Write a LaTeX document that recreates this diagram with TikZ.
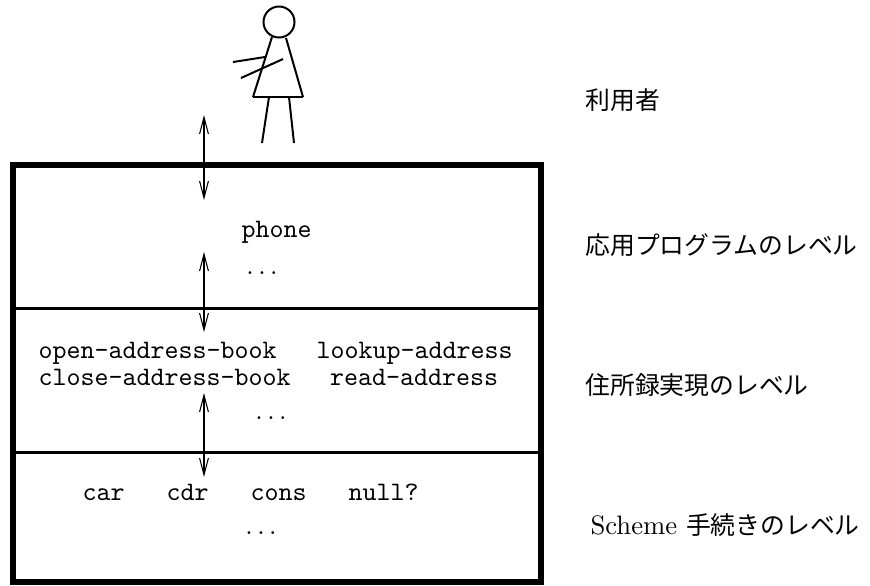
\documentclass[tikz,border=0pt]{standalone}
\usepackage{fontspec}
\newfontfamily\jp{Noto Sans CJK JP}
\usetikzlibrary{arrows.meta}
\tikzset{
    level/.style={anchor=west, inner sep=0pt, font=\jp\fontsize{9.3pt}{11pt}\selectfont},
    fn/.style={anchor=base west, inner sep=0pt, font=\ttfamily},
    fnc/.style={anchor=base, inner sep=0pt, font=\ttfamily},
    more/.style={anchor=base, inner sep=0pt},
    call/.style={{Straight Barb[length=6.3pt,width=3.3pt]}-{Straight Barb[length=6.3pt,width=3.3pt]}, line width=0.4pt}
}

\begin{document}
\begin{tikzpicture}[x=0.375pt, y=-0.375pt]
    \useasboundingbox (0,0) rectangle (870,585);

    % the user
    \draw[line width=0.75pt] (279,22) circle (15.5);
    \draw[line width=0.75pt] (272,37) -- (253,97) (286,38) -- (303,97);
    \draw[line width=1.1pt] (253,97) -- (303,97);
    \draw[line width=0.75pt] (233,62) -- (265,57) (241,78) -- (283,59);
    \draw[line width=0.75pt] (269,97) -- (262,143) (289,97) -- (294,143);

    % the layers
    \draw[line width=2.25pt] (13,164.5) rectangle (541,582);
    \draw[line width=1.1pt] (13,308.5) -- (541,308.5);
    \draw[line width=1.1pt] (13,452.5) -- (541,452.5);

    \node[fn] (phone) at (241,237) {phone};
    \node[more] (etc1) at (262,274) {$\ldots$};

    \node[fn] (open) at (38,358) {open-address-book};
    \node[fnc] (lookup) at (414.5,358) {lookup-address};
    \node[fn] (close) at (38,385) {close-address-book};
    \node[fnc] (read) at (414,385) {read-address};
    \node[more] (etc2) at (271,419) {$\ldots$};

    \node[fn] (car) at (82,500) {car};
    \node[fn] (cdr) at (166,500) {cdr};
    \node[fn] (cons) at (250,500) {cons};
    \node[fn] (nullp) at (348,500) {null?};
    \node[more] (etc3) at (261,534) {$\ldots$};

    \coordinate (a1) at (204,115);
    \coordinate (b1) at (204,200);
    \coordinate (a2) at (204,252);
    \coordinate (b2) at (204,332);
    \coordinate (a3) at (204,393);
    \coordinate (b3) at (204,477);
    \draw[call] (a1) -- (b1);
    \draw[call] (a2) -- (b2);
    \draw[call] (a3) -- (b3);

    \node[level] (user) at (585,100) {利用者};
    \node[level] (app) at (585,245) {応用プログラムのレベル};
    \node[level] (book) at (585,385) {住所録実現のレベル};
    \node[level] (scheme) at (590,525) {\rmfamily\fontsize{10pt}{12pt}\selectfont Scheme \jp\fontsize{9.3pt}{11pt}\selectfont 手続きのレベル};
\end{tikzpicture}
\end{document}
